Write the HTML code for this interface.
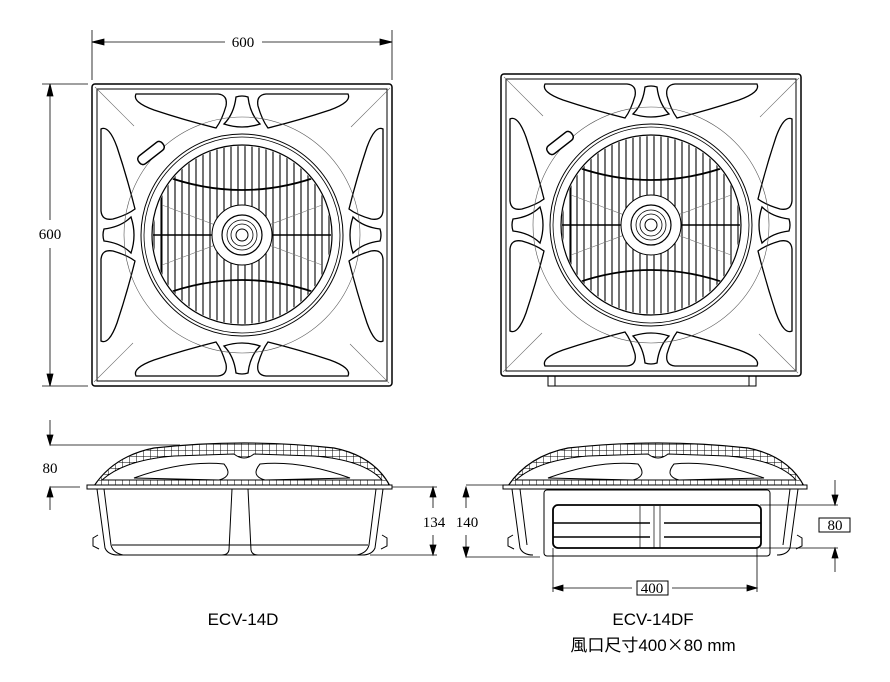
<!DOCTYPE html>
<html><head><meta charset="utf-8"><style>
html,body{margin:0;padding:0;background:#fff;}
svg{display:block;}
.t{font-family:"Liberation Serif",serif;font-size:15px;fill:#000;}
.l{font-family:"Liberation Sans","Noto Sans CJK TC",sans-serif;font-size:17px;fill:#000;}
</style></head><body>
<svg width="890" height="682" viewBox="0 0 890 682" xmlns="http://www.w3.org/2000/svg">
<defs>
<clipPath id="cg"><circle cx="150" cy="150" r="89"/></clipPath>
<g id="side">
 <path d="M44,10 H126 Q136,11 134,22 Q130,36 124,44 Q92,36 62,26 Q40,18 44,10 Z" fill="none" stroke="#000" stroke-width="1.3"/>
 <path d="M174,10 H256 Q260,18 238,26 Q208,36 176,44 Q170,36 166,22 Q164,11 174,10 Z" fill="none" stroke="#000" stroke-width="1.3"/>
 <path d="M144,13 Q150,11 156,13 Q158,30 168,40 Q150,46 132,40 Q142,30 144,13 Z" fill="none" stroke="#000" stroke-width="1.3"/>
 <line x1="3" y1="3" x2="42" y2="42" stroke="#666" stroke-width="0.6"/>
</g>
<g id="top">
 <rect x="0" y="0" width="300" height="302" rx="3" fill="#fff" stroke="#000" stroke-width="1.5"/>
 <rect x="5" y="5" width="290" height="292" fill="none" stroke="#000" stroke-width="1"/>
 <use href="#side"/>
 <use href="#side" transform="rotate(90 150 151)"/>
 <use href="#side" transform="rotate(180 150 151)"/>
 <use href="#side" transform="rotate(270 150 151)"/>
 <circle cx="150" cy="151" r="118" fill="none" stroke="#555" stroke-width="0.6"/>
 <circle cx="150" cy="151" r="101" fill="#fff" stroke="#000" stroke-width="1"/>
 <circle cx="150" cy="151" r="98" fill="none" stroke="#000" stroke-width="0.8"/>
 <circle cx="150" cy="151" r="90" fill="none" stroke="#000" stroke-width="1.2"/>
 <g clip-path="url(#cg)" transform="translate(0,1)" stroke="#000" stroke-width="1.1">
  <path d="M62,60V240M69,60V240M76,60V240M83,60V240M90,60V240M97,60V240M104,60V240M111,60V240M118,60V240M125,60V240M132,60V240M139,60V240M146,60V240M153,60V240M160,60V240M167,60V240M174,60V240M181,60V240M188,60V240M195,60V240M202,60V240M209,60V240M216,60V240M223,60V240M230,60V240M237,60V240"/>
  <path d="M70,90 Q150,120 230,90 M70,210 Q150,180 230,210" fill="none" stroke-width="1.8"/>
  <path d="M60,150 H240" stroke-width="1.6"/>
  <path d="M70,90 V210 M230,90 V210" stroke-width="1"/>
  <path d="M70,120 L230,180 M70,180 L230,120" stroke="#777" stroke-width="0.6"/>
 </g>
 <circle cx="150" cy="151" r="30" fill="#fff" stroke="#000" stroke-width="1"/>
 <circle cx="150" cy="151" r="20" fill="#fff" stroke="#000" stroke-width="1.2"/>
 <circle cx="150" cy="151" r="15" fill="none" stroke="#000" stroke-width="0.8"/>
 <circle cx="150" cy="151" r="11" fill="none" stroke="#000" stroke-width="0.8"/>
 <circle cx="150" cy="151" r="6" fill="none" stroke="#000" stroke-width="1"/>
 <rect x="44" y="64" width="30" height="10" rx="4" transform="rotate(-38 59 69)" fill="#fff" stroke="#000" stroke-width="1.5"/>
</g>
<pattern id="grid" width="7" height="6" patternUnits="userSpaceOnUse"><path d="M0,0H7M0,0V6" stroke="#000" stroke-width="1" fill="none"/></pattern>
<g id="dome">
 <path d="M0,0 Q20,-30 60,-38 Q150,-48 240,-38 Q280,-30 296,0 Z" fill="url(#grid)" stroke="#000" stroke-width="1.2"/>
 <path d="M8,-6 Q30,-26 80,-30 L140,-32 Q150,-24 160,-32 L220,-30 Q270,-26 288,-6 Z" fill="#fff" stroke="#000" stroke-width="1"/>
 <path d="M40,-8 Q90,-26 130,-22 Q140,-10 125,-6 Z" fill="none" stroke="#000" stroke-width="1"/>
 <path d="M256,-8 Q206,-26 166,-22 Q156,-10 171,-6 Z" fill="none" stroke="#000" stroke-width="1"/>
</g>
</defs>

<use href="#top" transform="translate(92,84)"/>
<use href="#top" transform="translate(501,74)"/>
<rect x="548" y="376" width="208" height="10" fill="none" stroke="#000" stroke-width="1"/>
<line x1="555" y1="376" x2="555" y2="386" stroke="#000"/><line x1="749" y1="376" x2="749" y2="386" stroke="#000"/>

<g stroke="#000" stroke-width="0.8" fill="#000">
 <line x1="92" y1="30" x2="92" y2="80"/><line x1="392" y1="30" x2="392" y2="80"/>
 <line x1="92" y1="42" x2="225" y2="42"/><line x1="262" y1="42" x2="392" y2="42"/>
 <path d="M92,42 l12,-3 v6z M392,42 l-12,-3 v6z"/>
 <line x1="42" y1="84" x2="88" y2="84"/><line x1="42" y1="386" x2="88" y2="386"/>
 <line x1="50" y1="84" x2="50" y2="220"/><line x1="50" y1="248" x2="50" y2="386"/>
 <path d="M50,84 l-3,12 h6z M50,386 l-3,-12 h6z"/>
</g>
<text class="t" x="243" y="47" text-anchor="middle">600</text>
<text class="t" x="50" y="239" text-anchor="middle">600</text>

<use href="#dome" transform="translate(94,486)"/>
<g stroke="#000" fill="none" stroke-width="1">
 <rect x="87" y="485" width="305" height="4" fill="#fff"/>
 <path d="M97,489 L105,548 Q108,555 118,555 L362,555 Q372,555 375,548 L383,489"/>
 <path d="M104,489 L111,545 Q113,553 123,555 M376,489 L369,545 Q367,553 357,555"/>
 <path d="M232,489 L229,550 Q228,555 222,555 M248,489 L251,550 Q252,555 258,555"/>
 <path d="M112,545 H368"/>
 <path d="M98,535 l-5,3 v8 l6,3 M382,535 l5,3 v8 l-6,3"/>
</g>
<g stroke="#000" stroke-width="0.8" fill="#000">
 <line x1="50" y1="420" x2="50" y2="445"/><path d="M50,445 l-3,-10 h6z"/>
 <line x1="50" y1="445" x2="180" y2="445"/>
 <line x1="50" y1="487" x2="50" y2="510"/><path d="M50,487 l-3,10 h6z"/>
 <line x1="50" y1="487" x2="80" y2="487"/>
 <line x1="392" y1="487" x2="437" y2="487"/><line x1="370" y1="555" x2="437" y2="555"/>
 <line x1="433" y1="487" x2="433" y2="508"/><path d="M433,487 l-3,10 h6z"/>
 <line x1="433" y1="535" x2="433" y2="555"/><path d="M433,555 l-3,-10 h6z"/>
 <line x1="466" y1="487" x2="466" y2="508"/><path d="M466,487 l-3,10 h6z"/>
 <line x1="466" y1="535" x2="466" y2="557"/><path d="M466,557 l-3,-10 h6z"/>
 <line x1="466" y1="485" x2="505" y2="485"/><line x1="466" y1="557" x2="540" y2="557"/>
</g>
<text class="t" x="50" y="473" text-anchor="middle">80</text>
<text class="t" x="434" y="527" text-anchor="middle">134</text>
<text class="t" x="467" y="527" text-anchor="middle">140</text>

<use href="#dome" transform="translate(508,486)"/>
<g stroke="#000" fill="none" stroke-width="1">
 <rect x="503" y="485" width="304" height="4" fill="#fff"/>
 <path d="M512,489 L520,548 Q523,555 533,555 M798,489 L790,548 Q787,555 777,555"/>
 <path d="M520,489 L527,545 M790,489 L783,545"/>
 <path d="M513,535 l-5,3 v8 l6,3 M797,535 l5,3 v8 l-6,3"/>
 <rect x="544" y="490" width="226" height="66" rx="3" fill="#fff"/>
 <rect x="553" y="505" width="208" height="43" rx="5" stroke-width="1.8"/>
 <path d="M553,523 H650 M664,523 H761 M553,537 H650 M664,537 H761" stroke-width="1.4"/>
 <path d="M640,506 V548 M654,506 V548 M660,506 V548" stroke-width="0.7"/>
</g>
<g stroke="#000" stroke-width="0.8" fill="#000">
 <line x1="760" y1="505" x2="838" y2="505"/><line x1="760" y1="548" x2="838" y2="548"/>
 <line x1="835" y1="480" x2="835" y2="505"/><path d="M835,505 l-3,-10 h6z"/>
 <line x1="835" y1="548" x2="835" y2="572"/><path d="M835,548 l-3,10 h6z"/>
 <line x1="553" y1="548" x2="553" y2="592"/><line x1="757" y1="548" x2="757" y2="592"/>
 <line x1="553" y1="588" x2="632" y2="588"/><line x1="672" y1="588" x2="757" y2="588"/>
 <path d="M553,588 l10,-3 v6z M757,588 l-10,-3 v6z"/>
</g>
<rect x="819" y="518" width="31" height="14" fill="#fff" stroke="#000" stroke-width="1"/>
<text class="t" x="835" y="530" text-anchor="middle">80</text>
<rect x="637" y="581" width="31" height="14" fill="#fff" stroke="#000" stroke-width="1"/>
<text class="t" x="652" y="593" text-anchor="middle">400</text>

<text class="l" x="243" y="625" text-anchor="middle">ECV-14D</text>
<text class="l" x="653" y="625" text-anchor="middle">ECV-14DF</text>
<text class="l" x="653" y="651" text-anchor="middle">風口尺寸400<tspan font-family="Noto Sans CJK TC, sans-serif">×</tspan>80 mm</text>
</svg>
</body></html>
